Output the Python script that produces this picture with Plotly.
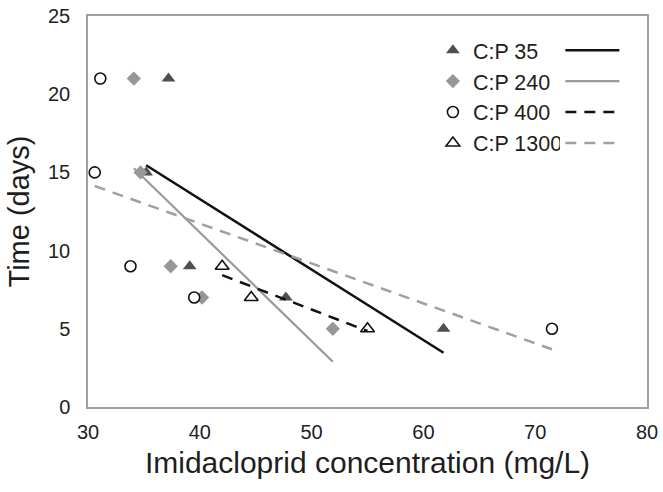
import numpy as np
import plotly.graph_objects as go

# Data
days = [21, 15, 9, 7, 5]
cp35_x = [37.2, 35.2, 39.1, 47.7, 61.8]
cp35_y = days
cp240_x = [34.1, 34.7, 37.4, 40.2, 51.9]
cp240_y = days
cp400_x = [31.1, 30.6, 33.8, 39.5, 71.5]
cp400_y = days
cp1300_x = [42.0, 44.6, 55.0]
cp1300_y = [9, 7, 5]

series_names = ["C:P 35", "C:P 240", "C:P 400", "C:P 1300"]
x_ticks = [30, 40, 50, 60, 70, 80]
y_ticks = [0, 5, 10, 15, 20, 25]

FONT = "Liberation Sans, Arial, sans-serif"
TXT = "#1e1e1e"
AX = "#a0a0a0"


def trend(xs, ys):
    xs = np.asarray(xs, float)
    ys = np.asarray(ys, float)
    m, b = np.polyfit(xs, ys, 1)
    xx = np.array([xs.min(), xs.max()])
    return xx, m * xx + b


fig = go.Figure()

# scatter series (legend 1)
fig.add_trace(go.Scatter(x=cp35_x, y=cp35_y, mode="markers", name=series_names[0],
                         legendgroup="a",
                         marker=dict(symbol="triangle-up", size=12, color="#4f4f4f",
                                     line=dict(width=0))))
fig.add_trace(go.Scatter(x=cp240_x, y=cp240_y, mode="markers", name=series_names[1],
                         legendgroup="b",
                         marker=dict(symbol="diamond", size=11, color="#979797",
                                     line=dict(width=0))))
fig.add_trace(go.Scatter(x=cp400_x, y=cp400_y, mode="markers", name=series_names[2],
                         legendgroup="c",
                         marker=dict(symbol="circle", size=11, color="white",
                                     line=dict(width=1.6, color="#111"))))
fig.add_trace(go.Scatter(x=cp1300_x, y=cp1300_y, mode="markers", name=series_names[3],
                         legendgroup="d",
                         marker=dict(symbol="triangle-up", size=12, color="white",
                                     line=dict(width=1.6, color="#111"))))

# trend lines (legend 2, unlabeled samples)
tx, ty = trend(cp35_x, cp35_y)
fig.add_trace(go.Scatter(x=tx, y=ty, mode="lines", name=" ", legend="legend2",
                         legendgroup="e", line=dict(color="#111", width=2.5)))
tx, ty = trend(cp240_x, cp240_y)
fig.add_trace(go.Scatter(x=tx, y=ty, mode="lines", name=" ", legend="legend2",
                         legendgroup="f", line=dict(color="#9a9a9a", width=2.2)))
tx, ty = trend(cp1300_x, cp1300_y)
fig.add_trace(go.Scatter(x=tx, y=ty, mode="lines", name=" ", legend="legend2",
                         legendgroup="g",
                         line=dict(color="#111", width=2.5, dash="11px,8px")))
tx, ty = trend(cp400_x, cp400_y)
fig.add_trace(go.Scatter(x=tx, y=ty, mode="lines", name=" ", legend="legend2",
                         legendgroup="h",
                         line=dict(color="#a0a0a0", width=2.5, dash="11px,8px")))

fig.update_layout(
    width=663, height=492,
    margin=dict(l=88, r=16, t=16, b=85, autoexpand=False),
    paper_bgcolor="white", plot_bgcolor="white",
    font=dict(family=FONT, color=TXT, size=20),
    showlegend=True,
    legend=dict(x=0.617, y=0.965, xanchor="left", yanchor="top",
                bgcolor="rgba(0,0,0,0)", font=dict(size=21.5, color=TXT),
                itemwidth=30, tracegroupgap=0),
    legend2=dict(x=0.845, y=0.965, xanchor="left", yanchor="top",
                 bgcolor="white", font=dict(size=21.5, color=TXT),
                 itemwidth=54, tracegroupgap=0),
    xaxis=dict(range=[30, 80], tickvals=x_ticks, ticktext=[str(v) for v in x_ticks],
               showgrid=False, zeroline=False, showline=True, linecolor=AX,
               linewidth=1.5, mirror=True, ticks="", ticklen=0, automargin=False,
               ticklabelstandoff=6,
               tickfont=dict(size=20, color=TXT),
               title=dict(text="Imidacloprid concentration (mg/L)",
                          font=dict(size=30, color=TXT), standoff=10)),
    yaxis=dict(range=[0, 25], tickvals=y_ticks, ticktext=[str(v) for v in y_ticks],
               showgrid=False, zeroline=False, showline=True, linecolor=AX,
               linewidth=1.5, mirror=True, ticks="", ticklen=0, automargin=False,
               ticklabelstandoff=12,
               tickfont=dict(size=20, color=TXT),
               title=dict(text="Time (days)", font=dict(size=29, color=TXT), standoff=10)),
)

fig.write_html("out.html", config={"displayModeBar": False},
               post_script="document.body.style.margin='0px';")
